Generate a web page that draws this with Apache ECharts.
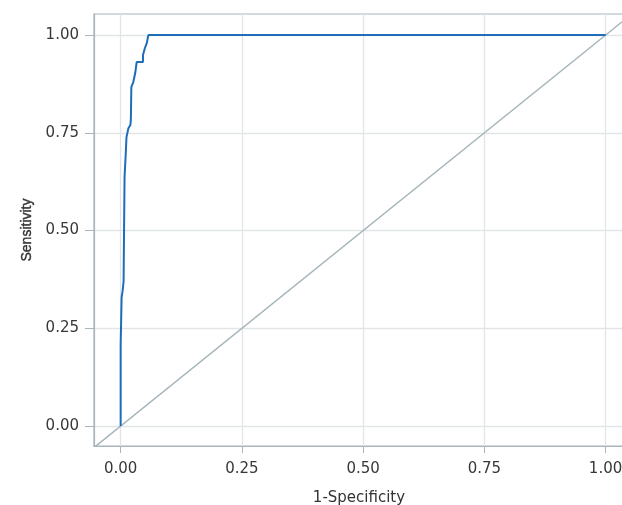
<!DOCTYPE html>
<html>
<head>
<meta charset="utf-8">
<script src="https://cdn.jsdelivr.net/npm/echarts@6/dist/echarts.min.js"></script>
<style>
html,body{margin:0;padding:0;background:#fff;}
#chart{width:622px;height:505px;}
</style>
</head>
<body>
<div id="chart"></div>
<script>
// ROC curve (1-Specificity, Sensitivity), step points
const fpr = [0.000, 0.000, 0.002, 0.002, 0.004, 0.004, 0.006, 0.006, 0.008, 0.008, 0.010, 0.010, 0.012, 0.012, 0.016, 0.016, 0.020, 0.020, 0.021, 0.021, 0.022, 0.022, 0.026, 0.026, 0.030, 0.030, 0.033, 0.033, 0.040, 0.040, 0.046, 0.046, 0.050, 0.050, 0.054, 0.054, 0.057, 0.057, 1.000];
const tpr = [0.000, 0.210, 0.210, 0.330, 0.330, 0.345, 0.345, 0.370, 0.370, 0.637, 0.637, 0.685, 0.685, 0.739, 0.739, 0.762, 0.762, 0.770, 0.770, 0.783, 0.783, 0.867, 0.867, 0.880, 0.880, 0.903, 0.903, 0.931, 0.931, 0.931, 0.931, 0.949, 0.949, 0.967, 0.967, 0.980, 0.980, 1.000, 1.000];
// reference (chance) line
const diagX = [-0.1, 1.1];
const diagY = [-0.1, 1.1];
const tickValues = [0, 0.25, 0.5, 0.75, 1];
const xName = '1-Specificity';
const yName = 'Sensitivity';

const rocData = fpr.map((v, i) => [v, tpr[i]]);
const diagData = diagX.map((v, i) => [v, diagY[i]]);
const fmt = v => v.toFixed(2);
const lblStyle = {color: '#383838', fontSize: 15, fontFamily: 'DejaVu Sans, sans-serif'};

const chart = echarts.init(document.getElementById('chart'));
chart.setOption({
  animation: false,
  backgroundColor: '#fff',
  grid: {left: 94, top: 14, right: -2, bottom: 59, show: true, borderColor: '#a9b4bb', borderWidth: 1.2,
         containLabel: false, outerBoundsMode: 'none'},
  xAxis: {
    type: 'value', min: -0.055, max: 1.038,
    name: xName, nameLocation: 'middle', nameGap: 45,
    nameTextStyle: {color: '#333', fontSize: 15, fontFamily: 'DejaVu Sans, sans-serif'},
    axisLine: {show: true, onZero: false, lineStyle: {color: '#a9b4bb', width: 1.2}},
    axisTick: {show: true, length: 7, customValues: tickValues, lineStyle: {color: '#a9b4bb'}},
    axisLabel: Object.assign({customValues: tickValues, formatter: fmt, margin: 16}, lblStyle),
    splitLine: {show: true, lineStyle: {color: '#e1e5e7', width: 1.3}}
  },
  yAxis: {
    type: 'value', min: -0.051, max: 1.054,
    name: yName, nameLocation: 'middle', nameGap: 58,
    nameTextStyle: {color: '#333', fontSize: 14, fontFamily: 'Liberation Sans, Arial, sans-serif',
                    textBorderColor: '#333', textBorderWidth: 0.4},
    axisLine: {show: true, onZero: false, lineStyle: {color: '#a9b4bb', width: 1.2}},
    axisTick: {show: true, length: 9, customValues: tickValues, lineStyle: {color: '#a9b4bb'}},
    axisLabel: Object.assign({customValues: tickValues, formatter: fmt, margin: 15}, lblStyle),
    splitLine: {show: true, lineStyle: {color: '#e1e5e7', width: 1.3}}
  },
  series: [
    {type: 'line', data: diagData, symbol: 'none', clip: true, lineStyle: {color: '#a6b5bb', width: 1.5}, z: 2},
    {type: 'line', data: rocData, symbol: 'none', clip: true, lineStyle: {color: '#1f6cb8', width: 2}, z: 3}
  ]
});
</script>
</body>
</html>
